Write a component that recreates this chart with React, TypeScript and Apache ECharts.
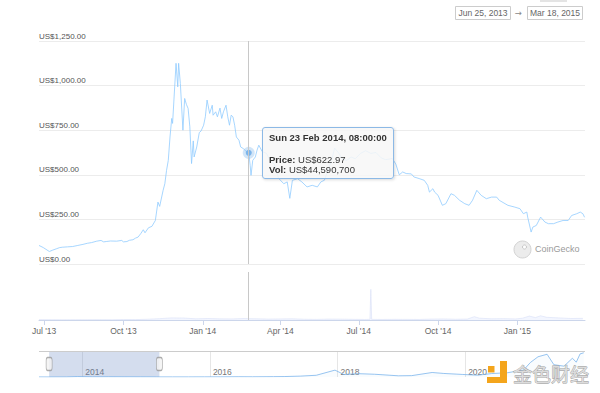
import React, { useEffect, useRef } from 'react';
import * as echarts from 'echarts';

// ---------- data ----------
const priceDates = [
  '2013-06-25','2013-06-30','2013-07-07','2013-07-11','2013-07-15','2013-07-19','2013-07-22','2013-07-28',
  '2013-08-03','2013-08-09','2013-08-15','2013-08-20','2013-08-25','2013-08-31','2013-09-05','2013-09-08',
  '2013-09-11','2013-09-16','2013-09-23','2013-09-29','2013-10-01','2013-10-05','2013-10-08','2013-10-12',
  '2013-10-15','2013-10-18','2013-10-21','2013-10-24','2013-10-26','2013-10-30','2013-11-03','2013-11-07',
  '2013-11-10','2013-11-12','2013-11-16','2013-11-18','2013-11-20','2013-11-22','2013-11-24','2013-11-26',
  '2013-11-27','2013-12-01','2013-12-03','2013-12-04','2013-12-06','2013-12-09','2013-12-11','2013-12-13',
  '2013-12-15','2013-12-17','2013-12-19','2013-12-21','2013-12-22','2013-12-25','2013-12-28','2013-12-30',
  '2014-01-02','2014-01-04','2014-01-06','2014-01-09','2014-01-12','2014-01-13','2014-01-16','2014-01-18',
  '2014-01-21','2014-01-23','2014-01-25','2014-01-28','2014-01-30','2014-02-01','2014-02-03','2014-02-05',
  '2014-02-07','2014-02-09','2014-02-12','2014-02-14','2014-02-17','2014-02-21','2014-02-23T08:00:00','2014-02-25',
  '2014-02-26','2014-02-28','2014-03-03','2014-03-05','2014-03-07','2014-03-11','2014-03-16','2014-03-20',
  '2014-03-25','2014-03-30','2014-04-01','2014-04-05','2014-04-09','2014-04-12','2014-04-15','2014-04-21',
  '2014-04-26','2014-05-02','2014-05-08','2014-05-14','2014-05-18','2014-05-22','2014-05-26','2014-05-31',
  '2014-06-03','2014-06-08','2014-06-12','2014-06-17','2014-06-22','2014-06-27','2014-07-03','2014-07-09',
  '2014-07-15','2014-07-21','2014-07-27','2014-08-01','2014-08-09','2014-08-13','2014-08-17','2014-08-21',
  '2014-08-25','2014-08-31','2014-09-03','2014-09-09','2014-09-15','2014-09-19','2014-09-21','2014-09-25',
  '2014-09-27','2014-10-01','2014-10-06','2014-10-10','2014-10-16','2014-10-20','2014-10-26','2014-11-01',
  '2014-11-06','2014-11-10','2014-11-15','2014-11-20','2014-11-26','2014-12-02','2014-12-08','2014-12-11',
  '2014-12-21','2014-12-29','2015-01-04','2015-01-08','2015-01-12','2015-01-13','2015-01-17','2015-01-19',
  '2015-01-23','2015-01-28','2015-02-02','2015-02-06','2015-02-12','2015-02-17','2015-02-23','2015-03-01',
  '2015-03-05','2015-03-11','2015-03-15','2015-03-18','2015-03-20',
];
const prices = [
  104, 92, 70, 78, 85, 92, 94, 96,
  98, 104, 110, 116, 120, 128, 132, 124,
  126, 129, 128, 132, 124, 126, 133, 136,
  145, 151, 170, 192, 175, 203, 211, 244,
  347, 323, 413, 450, 525, 581, 712, 816,
  788, 1125, 993, 1125, 1012, 750, 928, 895,
  872, 769, 563, 690, 600, 656, 737, 745,
  778, 825, 919, 844, 890, 834, 853, 825,
  874, 816, 853, 890, 825, 778, 834, 825,
  778, 712, 694, 656, 647, 628, 622.97, 553,
  497, 581, 600, 638, 666, 630, 620, 580,
  560, 480, 470, 450, 460, 368, 469, 478,
  460, 432, 441, 432, 460, 469, 520, 590,
  650, 620, 590, 580, 600, 590, 620, 635,
  620, 625, 595, 585, 591, 560, 500, 516,
  507, 505, 488, 479, 469, 441, 403, 422,
  403, 385, 329, 338, 394, 385, 357, 338,
  329, 357, 413, 385, 366, 375, 375, 357,
  329, 319, 310, 282, 291, 263, 179, 207,
  216, 263, 235, 226, 226, 235, 244, 244,
  272, 282, 291, 282, 262,
];

const volDates = [
  '2013-06-25','2013-07-09','2013-07-23','2013-08-06','2013-08-20','2013-09-03','2013-09-17','2013-10-01',
  '2013-10-15','2013-10-29','2013-11-12','2013-11-26','2013-12-10','2013-12-24','2014-01-07','2014-01-21',
  '2014-02-04','2014-02-18','2014-02-23T08:00:00','2014-03-04','2014-03-18','2014-04-01','2014-04-15','2014-04-29',
  '2014-05-13','2014-05-27','2014-06-10','2014-06-24','2014-07-08','2014-07-14','2014-07-15','2014-07-16',
  '2014-07-29','2014-08-12','2014-08-26','2014-09-09','2014-09-23','2014-10-07','2014-10-21','2014-11-04',
  '2014-11-12','2014-11-18','2014-12-02','2014-12-16','2014-12-30','2015-01-07','2015-01-15','2015-01-22',
  '2015-01-28','2015-02-04','2015-02-18','2015-03-04','2015-03-18',
];
const volumes = [
  12e6, 10e6, 8e6, 9e6, 10e6, 11e6, 8e6, 15e6,
  14e6, 25e6, 45e6, 70e6, 65e6, 40e6, 50e6, 38e6,
  35e6, 50e6, 44590700, 40e6, 30e6, 35e6, 40e6, 25e6,
  20e6, 30e6, 28e6, 22e6, 18e6, 20e6, 1020e6, 20e6,
  18e6, 22e6, 20e6, 18e6, 30e6, 35e6, 25e6, 30e6,
  110e6, 60e6, 40e6, 45e6, 35e6, 60e6, 130e6, 80e6,
  140e6, 90e6, 70e6, 50e6, 55e6,
];

const navDates = [
  '2013-04-28','2013-07-05','2013-10-01','2013-12-04','2014-03-01','2014-06-01','2014-09-01','2014-12-01',
  '2015-03-01','2015-06-01','2015-09-01','2015-12-01','2016-03-01','2016-06-15','2016-09-01','2016-12-31',
  '2017-03-01','2017-06-01','2017-09-01','2017-12-17','2018-02-06','2018-05-01','2018-08-01','2018-12-15',
  '2019-03-01','2019-06-26','2019-09-01','2019-12-15','2020-03-13','2020-06-01','2020-09-01','2020-12-01',
  '2021-01-08','2021-02-21','2021-04-14','2021-05-23','2021-07-20','2021-09-06','2021-09-28','2021-10-20',
  '2021-11-10',
];
const navPrices = [
  135, 70, 125, 1125, 560, 630, 475, 375,
  255, 225, 230, 360, 435, 750, 570, 960,
  1220, 2400, 4800, 19000, 7000, 9200, 7600, 3300,
  3800, 12500, 9800, 7100, 5000, 9500, 11900, 19500,
  40000, 56000, 63000, 34000, 30000, 52000, 41000, 64000,
  67000,
];

const yTicks = [0, 250, 500, 750, 1000, 1250];
const xTickDates = ['2013-07-01', '2013-10-01', '2014-01-01', '2014-04-01', '2014-07-01', '2014-10-01', '2015-01-01'];
const navYears = [2014, 2016, 2018, 2020];
const viewMin = '2013-06-25';
const viewMax = '2015-03-20T12:00:00';
const navMin = '2013-04-28';
const navMax = '2021-11-17';
const rangeFrom = '2013-06-25';
const rangeTo = '2015-03-18';
const rangeLabels = ['Jun 25, 2013', '→', 'Mar 18, 2015'];
const hoverIndex = 78;

// ---------- helpers ----------
const MONTHS = ['Jan', 'Feb', 'Mar', 'Apr', 'May', 'Jun', 'Jul', 'Aug', 'Sep', 'Oct', 'Nov', 'Dec'];
const DAYS = ['Sun', 'Mon', 'Tue', 'Wed', 'Thu', 'Fri', 'Sat'];
function ts(s: string): number {
  const [d, t] = s.split('T');
  const [y, m, dd] = d.split('-').map(Number);
  let h = 0, mi = 0, se = 0;
  if (t) [h, mi, se] = t.split(':').map(Number);
  return new Date(y, m - 1, dd, h, mi, se).getTime();
}
const pad = (n: number) => (n < 10 ? '0' + n : '' + n);
const FONT = 'Liberation Sans, Arial, sans-serif';

export default function App() {
  const ref = useRef<HTMLDivElement>(null);
  useEffect(() => {
    if (!ref.current) return;
    document.body.style.margin = '0';
    document.body.style.padding = '0';
    const chart = echarts.init(ref.current, undefined, { renderer: 'svg' });
    const priceData = priceDates.map((d, i) => [ts(d), prices[i]]);
    const volData = volDates.map((d, i) => [ts(d), volumes[i]]);
    const navData = navDates.map((d, i) => [ts(d), navPrices[i]]);
    const xTicks = xTickDates.map(ts);
    const navTicks = navYears.map((y) => new Date(y, 0, 1).getTime());
    const navMaxVal = 72000;

    const option: any = {
      animation: false,
      backgroundColor: '#fff',
      textStyle: { fontFamily: FONT },
      axisPointer: { link: [{ xAxisIndex: [0, 1] }] },
      tooltip: {
        trigger: 'axis',
        triggerOn: 'none',
        alwaysShowContent: true,
        transitionDuration: 0,
        axisPointer: { type: 'line', lineStyle: { color: '#c8c8c8', width: 1, type: 'solid' }, label: { show: false } },
        backgroundColor: 'rgba(247,247,247,0.85)',
        borderColor: '#8cb9e6',
        borderWidth: 1,
        padding: [4, 6, 3, 6],
        textStyle: { fontFamily: FONT, fontSize: 9.5, color: '#333' },
        extraCssText: 'box-shadow: 1px 1px 3px rgba(0,0,0,0.15); border-radius: 3px;',
        position: (point: number[]) => [point[0] + 13, 127],
        formatter: (params: any) => {
          const arr = Array.isArray(params) ? params : [params];
          const p = arr.find((q: any) => q.seriesIndex === 0) || arr[0];
          const t = p.value[0];
          const d = new Date(t);
          const title = `${DAYS[d.getDay()]} ${d.getDate()} ${MONTHS[d.getMonth()]} ${d.getFullYear()}, ${pad(d.getHours())}:${pad(d.getMinutes())}:${pad(d.getSeconds())}`;
          const vi = volData.findIndex((v) => v[0] === t);
          const vol = vi >= 0 ? volData[vi][1] : 0;
          const price = p.value[1];
          const ls = 'font-size:9.5px;line-height:10px;white-space:nowrap;';
          return (
            `<div style="font-weight:bold;font-size:9.5px;line-height:11px;white-space:nowrap;">${title}</div>` +
            `<div style="height:12px"></div>` +
            `<div style="${ls}"><b>Price:</b> US$${price.toFixed(2)}</div>` +
            `<div style="${ls}"><b>Vol:</b> US$${Math.round(vol).toLocaleString('en-US')}</div>`
          );
        },
      },
      grid: [
        { left: 39, right: 15, top: 41, height: 223 },
        { left: 39, right: 15, top: 272, height: 48 },
        { left: 39, right: 15, top: 351, height: 26 },
      ],
      xAxis: [
        {
          type: 'value', gridIndex: 0, min: ts(viewMin), max: ts(viewMax), scale: true,
          axisLine: { show: false }, axisTick: { show: false }, axisLabel: { show: false }, splitLine: { show: false },
        },
        {
          type: 'value', gridIndex: 1, min: ts(viewMin), max: ts(viewMax), scale: true,
          axisLine: { show: true, onZero: false, lineStyle: { color: '#ccd6eb', width: 1 } },
          axisTick: { show: true, length: 5, lineStyle: { color: '#ccd6eb' }, customValues: xTicks },
          axisLabel: {
            show: true, customValues: xTicks, margin: 6, fontSize: 8.5, color: '#666', fontFamily: FONT,
            formatter: (v: number) => {
              const d = new Date(v);
              return `${MONTHS[d.getMonth()]} '${String(d.getFullYear()).slice(2)}`;
            },
          },
          splitLine: { show: false },
        },
        {
          type: 'value', gridIndex: 2, min: ts(navMin), max: ts(navMax), scale: true,
          axisLine: { show: false },
          axisTick: { show: false, customValues: navTicks },
          axisLabel: {
            show: true, inside: true, customValues: navTicks, align: 'left', margin: 1, padding: [0, 0, 0, 3],
            fontSize: 8.5, color: '#777', fontFamily: FONT,
            formatter: (v: number) => String(new Date(v).getFullYear()),
          },
          splitLine: { show: true, lineStyle: { color: '#e6e6e6', width: 1 } },
          axisPointer: { show: false },
        },
      ],
      yAxis: [
        {
          type: 'value', gridIndex: 0, min: yTicks[0], max: yTicks[yTicks.length - 1], interval: yTicks[1] - yTicks[0],
          axisLine: { show: false }, axisTick: { show: false },
          splitLine: { show: true, lineStyle: { color: '#ececec', width: 1 } },
          axisLabel: {
            inside: true, margin: 0, verticalAlign: 'bottom', padding: [0, 0, 1, 0],
            fontSize: 8, color: '#555', fontFamily: FONT,
            formatter: (v: number) => 'US$' + v.toLocaleString('en-US', { minimumFractionDigits: 2, maximumFractionDigits: 2 }),
          },
        },
        { type: 'value', gridIndex: 1, min: 0, max: 1.6e9, show: false, splitLine: { show: false } },
        { type: 'value', gridIndex: 2, min: 0, max: navMaxVal, show: false, splitLine: { show: false } },
      ],
      series: [
        {
          name: 'Price', type: 'line', xAxisIndex: 0, yAxisIndex: 0, data: priceData,
          showSymbol: false, symbol: 'circle', symbolSize: 6,
          lineStyle: { color: '#84b9ea', width: 0.8 },
          itemStyle: { color: '#7cb5ec' },
          emphasis: { scale: false, lineStyle: { width: 0.8 }, itemStyle: { color: '#7cb5ec', borderColor: 'rgba(124,181,236,0.35)', borderWidth: 6 } },
          z: 3,
        },
        {
          name: 'Vol', type: 'line', xAxisIndex: 1, yAxisIndex: 1, data: volData,
          symbol: 'none', showSymbol: false,
          lineStyle: { color: '#c6cbe0', width: 0.6 },
          areaStyle: { color: '#d9dcec' },
        },
        {
          name: 'Navigator', type: 'line', xAxisIndex: 2, yAxisIndex: 2, data: navData,
          symbol: 'none', showSymbol: false, silent: true,
          lineStyle: { color: '#7cb5ec', width: 0.8 },
          areaStyle: { color: 'rgba(124,181,236,0.06)' },
          markArea: {
            silent: true,
            itemStyle: { color: 'rgba(102,133,194,0.28)' },
            data: [[{ xAxis: ts(rangeFrom) }, { xAxis: ts(rangeTo) }]],
          },
          markLine: {
            silent: true, symbol: 'none', label: { show: false },
            lineStyle: { color: '#cccccc', width: 1, type: 'solid' },
            data: [{ yAxis: navMaxVal }],
          },
        },
        {
          name: 'Handles', type: 'scatter', xAxisIndex: 2, yAxisIndex: 2, silent: true,
          data: [[ts(rangeFrom), navMaxVal / 2], [ts(rangeTo), navMaxVal / 2]],
          symbol: 'roundRect', symbolSize: [6, 13],
          itemStyle: { color: '#f2f2f2', borderColor: '#999', borderWidth: 1 },
          z: 5,
        },
      ],
      graphic: [
        { type: 'rect', shape: { x: 540, y: 0, width: 27, height: 2 }, style: { fill: '#e4e4e4' } },
        { type: 'rect', shape: { x: 455.5, y: 6.5, width: 55, height: 13 }, style: { fill: '#fff', stroke: '#cccccc', lineWidth: 1 } },
        { type: 'text', x: 483, y: 13, style: { text: rangeLabels[0], fontSize: 8.5, fill: '#666', fontFamily: FONT, align: 'center', verticalAlign: 'middle' } },
        { type: 'text', x: 518, y: 13, style: { text: rangeLabels[1], fontSize: 8.5, fill: '#888', fontFamily: 'DejaVu Sans', align: 'center', verticalAlign: 'middle' } },
        { type: 'rect', shape: { x: 527.5, y: 6.5, width: 55, height: 13 }, style: { fill: '#fff', stroke: '#cccccc', lineWidth: 1 } },
        { type: 'text', x: 555, y: 13, style: { text: rangeLabels[2], fontSize: 8.5, fill: '#666', fontFamily: FONT, align: 'center', verticalAlign: 'middle' } },
        // CoinGecko watermark
        { type: 'circle', shape: { cx: 522.5, cy: 249.5, r: 8.5 }, style: { fill: '#ececec', stroke: '#d2d2d2', lineWidth: 1 } },
        { type: 'circle', shape: { cx: 524.5, cy: 247, r: 2 }, style: { fill: '#fff', stroke: '#bbb', lineWidth: 0.8 } },
        { type: 'text', x: 535, y: 249, style: { text: 'CoinGecko', fontSize: 9, fill: '#9a9a9a', fontFamily: FONT, verticalAlign: 'middle' } },
        // 金色财经 watermark
        { type: 'rect', shape: { x: 488, y: 366, width: 6.5, height: 6.5 }, style: { fill: '#f4a51c' }, z: 100 },
        { type: 'rect', shape: { x: 500, y: 361, width: 7, height: 22 }, style: { fill: '#f4a51c' }, z: 100 },
        { type: 'rect', shape: { x: 487, y: 377, width: 20, height: 6 }, style: { fill: '#f4a51c' }, z: 100 },
        { type: 'text', x: 513, y: 373, style: { text: '金色财经', fontSize: 19, fill: '#dcdcdc', stroke: '#9c9c9c', lineWidth: 0.8, fontFamily: 'Noto Sans CJK SC', verticalAlign: 'middle' }, z: 100 },
      ],
    };
    chart.setOption(option);
    chart.dispatchAction({ type: 'showTip', seriesIndex: 0, dataIndex: hoverIndex });
    return () => chart.dispose();
  }, []);
  return <div ref={ref} style={{ width: 600, height: 393, background: '#fff' }} />;
}
